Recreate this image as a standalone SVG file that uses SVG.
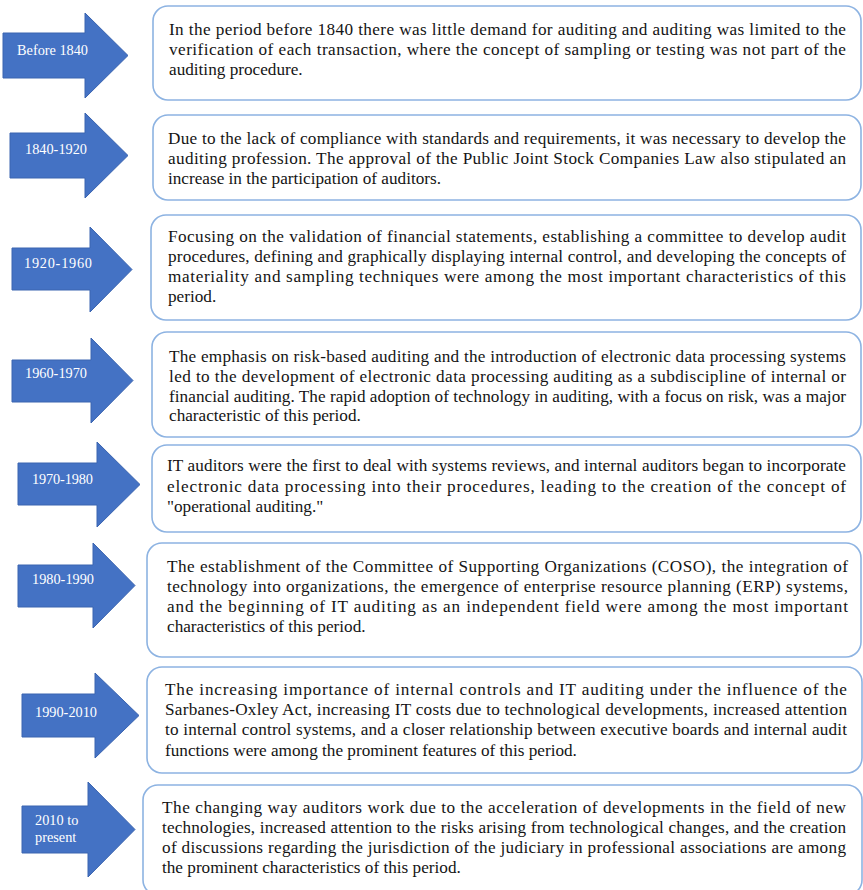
<svg xmlns="http://www.w3.org/2000/svg" width="863" height="890" viewBox="0 0 863 890">
  <style>
    .arrow { fill: #4472C4; stroke: #3A64B0; stroke-width: 1; }
    .box { fill: #FFFFFF; stroke: #8DB3E2; stroke-width: 1.6; }
    .lbl { fill: #FFFFFF; font-family: "Liberation Serif", "Times New Roman", serif; font-size: 14.3px; }
    .txt { fill: #141414; font-family: "Liberation Serif", "Times New Roman", serif; font-size: 17.2px; }
  </style>
  <rect width="863" height="890" fill="#FFFFFF"/>

  <!-- timeline arrows are plain shapes pointing into their boxes; no separate connectors -->
  <g id="connectors"></g>

  <!-- Before 1840 -->
  <g id="period-before-1840">
    <polygon class="arrow" points="3,33 85,33 85,13 128,55.5 85,98 85,78 3,78"/>
    <text class="lbl" x="17" y="55" textLength="71" lengthAdjust="spacing">Before 1840</text>
    <rect class="box" x="153" y="6" width="708" height="94" rx="15"/>
    <text class="txt" x="169" y="35" textLength="677" lengthAdjust="spacing">In the period before 1840 there was little demand for auditing and auditing was limited to the</text>
    <text class="txt" x="169" y="55" textLength="677" lengthAdjust="spacing">verification of each transaction, where the concept of sampling or testing was not part of the</text>
    <text class="txt" x="169" y="75">auditing procedure.</text>
  </g>

  <!-- 1840-1920 -->
  <g id="period-1840-1920">
    <polygon class="arrow" points="10,133 85,133 85,113 128,155.5 85,198 85,178 10,178"/>
    <text class="lbl" x="25" y="154" textLength="62" lengthAdjust="spacing">1840-1920</text>
    <rect class="box" x="153" y="115" width="708" height="85" rx="15"/>
    <text class="txt" x="168" y="144" textLength="678" lengthAdjust="spacing">Due to the lack of compliance with standards and requirements, it was necessary to develop the</text>
    <text class="txt" x="168" y="164" textLength="678" lengthAdjust="spacing">auditing profession. The approval of the Public Joint Stock Companies Law also stipulated an</text>
    <text class="txt" x="168" y="184">increase in the participation of auditors.</text>
  </g>

  <!-- 1920-1960 -->
  <g id="period-1920-1960">
    <polygon class="arrow" points="12,248 90,248 90,227 132,269.5 90,312 90,290 12,290"/>
    <text class="lbl" x="24" y="268" textLength="68" lengthAdjust="spacing">1920-1960</text>
    <rect class="box" x="151" y="215" width="710" height="105" rx="15"/>
    <text class="txt" x="168" y="242" textLength="678" lengthAdjust="spacing">Focusing on the validation of financial statements, establishing a committee to develop audit</text>
    <text class="txt" x="168" y="262" textLength="678" lengthAdjust="spacing">procedures, defining and graphically displaying internal control, and developing the concepts of</text>
    <text class="txt" x="168" y="282" textLength="678" lengthAdjust="spacing">materiality and sampling techniques were among the most important characteristics of this</text>
    <text class="txt" x="168" y="302">period.</text>
  </g>

  <!-- 1960-1970 -->
  <g id="period-1960-1970">
    <polygon class="arrow" points="12,360 91,360 91,338 133,380.5 91,423 91,402 12,402"/>
    <text class="lbl" x="25" y="378" textLength="62" lengthAdjust="spacing">1960-1970</text>
    <rect class="box" x="152" y="332" width="709" height="105" rx="15"/>
    <text class="txt" x="169" y="362" textLength="677" lengthAdjust="spacing">The emphasis on risk-based auditing and the introduction of electronic data processing systems</text>
    <text class="txt" x="169" y="382" textLength="677" lengthAdjust="spacing">led to the development of electronic data processing auditing as a subdiscipline of internal or</text>
    <text class="txt" x="169" y="402" textLength="677" lengthAdjust="spacing">financial auditing. The rapid adoption of technology in auditing, with a focus on risk, was a major</text>
    <text class="txt" x="169" y="421">characteristic of this period.</text>
  </g>

  <!-- 1970-1980 -->
  <g id="period-1970-1980">
    <polygon class="arrow" points="18,463 97,463 97,442 140,484.5 97,527 97,505 18,505"/>
    <text class="lbl" x="32" y="484" textLength="61" lengthAdjust="spacing">1970-1980</text>
    <rect class="box" x="152" y="445" width="709" height="87" rx="15"/>
    <text class="txt" x="167" y="471" textLength="679" lengthAdjust="spacing">IT auditors were the first to deal with systems reviews, and internal auditors began to incorporate</text>
    <text class="txt" x="167" y="492" textLength="679" lengthAdjust="spacing">electronic data processing into their procedures, leading to the creation of the concept of</text>
    <text class="txt" x="167" y="512">"operational auditing."</text>
  </g>

  <!-- 1980-1990 -->
  <g id="period-1980-1990">
    <polygon class="arrow" points="18,565 93,565 93,543 135,585.5 93,628 93,607 18,607"/>
    <text class="lbl" x="32" y="584" textLength="62" lengthAdjust="spacing">1980-1990</text>
    <rect class="box" x="147" y="543" width="714" height="114" rx="15"/>
    <text class="txt" x="167" y="572" textLength="681" lengthAdjust="spacing">The establishment of the Committee of Supporting Organizations (COSO), the integration of</text>
    <text class="txt" x="167" y="592" textLength="681" lengthAdjust="spacing">technology into organizations, the emergence of enterprise resource planning (ERP) systems,</text>
    <text class="txt" x="167" y="612" textLength="681" lengthAdjust="spacing">and the beginning of IT auditing as an independent field were among the most important</text>
    <text class="txt" x="167" y="632">characteristics of this period.</text>
  </g>

  <!-- 1990-2010 -->
  <g id="period-1990-2010">
    <polygon class="arrow" points="22,694 95,694 95,673 139,715.5 95,758 95,737 22,737"/>
    <text class="lbl" x="35" y="717" textLength="62" lengthAdjust="spacing">1990-2010</text>
    <rect class="box" x="147" y="667" width="715" height="106" rx="15"/>
    <text class="txt" x="165" y="695" textLength="682" lengthAdjust="spacing">The increasing importance of internal controls and IT auditing under the influence of the</text>
    <text class="txt" x="165" y="715" textLength="682" lengthAdjust="spacing">Sarbanes-Oxley Act, increasing IT costs due to technological developments, increased attention</text>
    <text class="txt" x="165" y="735" textLength="682" lengthAdjust="spacing">to internal control systems, and a closer relationship between executive boards and internal audit</text>
    <text class="txt" x="165" y="756">functions were among the prominent features of this period.</text>
  </g>

  <!-- 2010 to present -->
  <g id="period-2010-present">
    <polygon class="arrow" points="22,806 88,806 88,782 135,829.5 88,877 88,853 22,853"/>
    <text class="lbl" x="35" y="825">2010 to</text>
    <text class="lbl" x="35" y="842">present</text>
    <rect class="box" x="143" y="785" width="719" height="110" rx="15"/>
    <text class="txt" x="162" y="813" textLength="684" lengthAdjust="spacing">The changing way auditors work due to the acceleration of developments in the field of new</text>
    <text class="txt" x="162" y="833" textLength="684" lengthAdjust="spacing">technologies, increased attention to the risks arising from technological changes, and the creation</text>
    <text class="txt" x="162" y="853" textLength="684" lengthAdjust="spacing">of discussions regarding the jurisdiction of the judiciary in professional associations are among</text>
    <text class="txt" x="162" y="873">the prominent characteristics of this period.</text>
  </g>
</svg>
